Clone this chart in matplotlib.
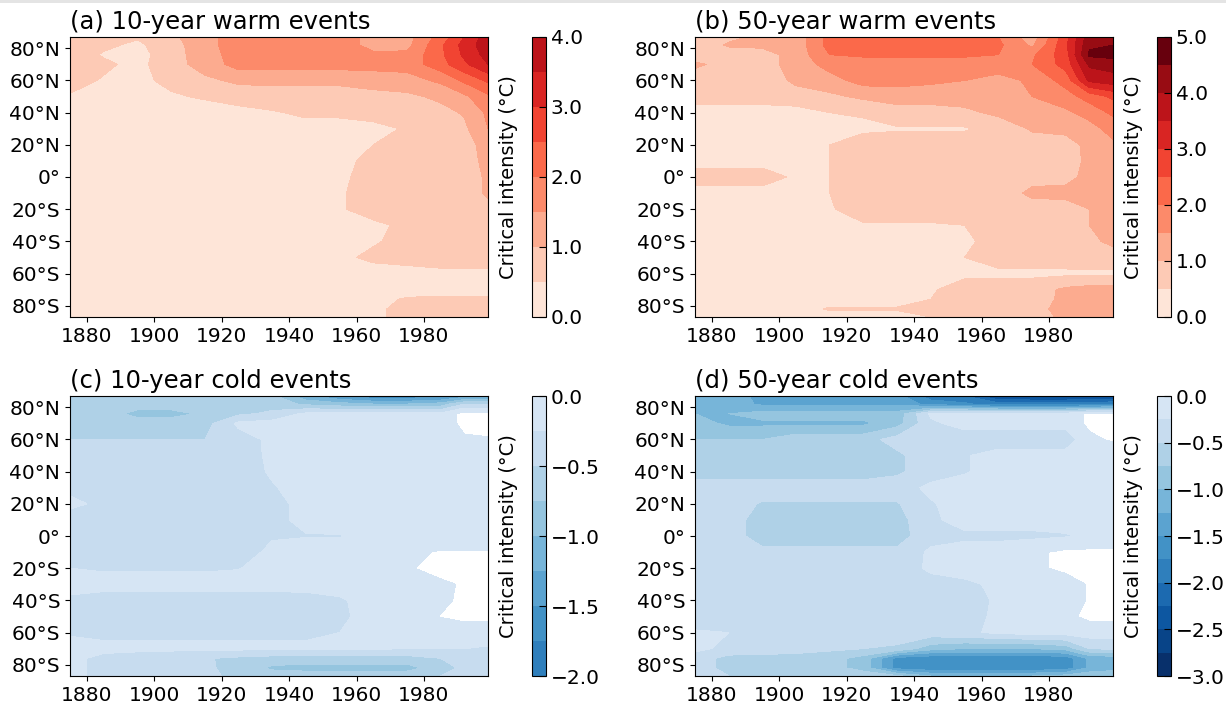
import numpy as np
import matplotlib
matplotlib.use('Agg')
import matplotlib.pyplot as plt
from matplotlib.patches import Rectangle
from matplotlib.ticker import FuncFormatter

# grid of the fields: columns are years, rows are latitudes from north to south
years = [1875, 1885, 1895, 1905, 1915, 1925, 1935, 1945, 1955, 1965, 1975, 1985, 1992, 1999]
lats = [87, 82, 76, 70, 60, 50, 40, 30, 20, 10, 0, -10, -20, -30, -40, -50, -60, -70, -76, -82, -87]

# (a) 10-year warm events, critical intensity in degC
warm10 = [
    [0.7, 0.6, 0.55, 0.9, 1.3, 1.8, 1.8, 1.8, 1.8, 1.3, 1.3, 2.2, 3.0, 3.8],
    [0.75, 0.6, 0.4, 0.8, 1.3, 1.8, 1.8, 1.8, 1.8, 1.3, 1.35, 2.4, 3.2, 3.8],
    [0.75, 0.45, 0.3, 0.8, 1.25, 1.75, 1.75, 1.75, 1.75, 1.6, 1.6, 2.4, 3.1, 3.7],
    [0.75, 0.6, 0.35, 0.8, 1.2, 1.7, 1.7, 1.7, 1.7, 1.7, 1.7, 2.3, 2.9, 3.5],
    [0.7, 0.45, 0.4, 0.6, 0.9, 1.1, 1.1, 1.1, 1.1, 1.2, 1.3, 1.6, 2.1, 2.6],
    [0.45, 0.4, 0.4, 0.45, 0.55, 0.7, 0.8, 0.8, 0.8, 0.85, 0.9, 1.1, 1.4, 1.9],
    [0.3, 0.3, 0.3, 0.3, 0.3, 0.35, 0.45, 0.6, 0.6, 0.7, 0.7, 0.85, 1.05, 1.6],
    [0.3, 0.3, 0.3, 0.3, 0.3, 0.3, 0.3, 0.3, 0.3, 0.35, 0.55, 0.75, 0.9, 1.5],
    [0.3, 0.3, 0.3, 0.3, 0.3, 0.3, 0.3, 0.3, 0.3, 0.5, 0.7, 0.8, 0.85, 1.15],
    [0.3, 0.3, 0.3, 0.3, 0.3, 0.3, 0.3, 0.3, 0.35, 0.65, 0.75, 0.8, 0.85, 1.1],
    [0.3, 0.3, 0.3, 0.3, 0.3, 0.3, 0.3, 0.3, 0.4, 0.7, 0.75, 0.8, 0.85, 1.05],
    [0.3, 0.3, 0.3, 0.3, 0.3, 0.3, 0.3, 0.3, 0.45, 0.7, 0.75, 0.8, 0.85, 1.05],
    [0.3, 0.3, 0.3, 0.3, 0.3, 0.3, 0.3, 0.3, 0.45, 0.7, 0.7, 0.75, 0.8, 0.9],
    [0.3, 0.3, 0.3, 0.3, 0.3, 0.3, 0.3, 0.3, 0.3, 0.4, 0.6, 0.7, 0.75, 0.8],
    [0.3, 0.3, 0.3, 0.3, 0.3, 0.3, 0.3, 0.3, 0.3, 0.45, 0.65, 0.7, 0.75, 0.8],
    [0.3, 0.3, 0.3, 0.3, 0.3, 0.3, 0.3, 0.3, 0.4, 0.6, 0.65, 0.7, 0.7, 0.7],
    [0.3, 0.3, 0.3, 0.3, 0.3, 0.3, 0.3, 0.3, 0.3, 0.3, 0.35, 0.4, 0.4, 0.4],
    [0.3, 0.3, 0.3, 0.3, 0.3, 0.3, 0.3, 0.3, 0.3, 0.3, 0.3, 0.3, 0.3, 0.3],
    [0.3, 0.3, 0.3, 0.3, 0.3, 0.3, 0.3, 0.3, 0.3, 0.35, 0.55, 0.6, 0.6, 0.6],
    [0.3, 0.3, 0.3, 0.3, 0.3, 0.3, 0.3, 0.3, 0.3, 0.4, 0.65, 0.7, 0.7, 0.7],
    [0.3, 0.3, 0.3, 0.3, 0.3, 0.3, 0.3, 0.3, 0.3, 0.4, 0.65, 0.7, 0.7, 0.7],
]

# (b) 50-year warm events
warm50 = [
    [0.7, 0.9, 1.1, 1.2, 2.2, 2.2, 2.2, 2.2, 2.2, 2.0, 1.2, 2.8, 4.3, 4.4],
    [0.7, 1.05, 1.1, 1.2, 2.2, 2.2, 2.2, 2.2, 2.2, 2.1, 1.4, 2.9, 4.4, 4.5],
    [0.7, 0.8, 0.8, 1.2, 2.0, 2.1, 2.1, 2.1, 2.1, 2.0, 1.9, 2.8, 4.6, 4.7],
    [1.1, 0.8, 0.8, 1.2, 1.7, 1.7, 1.7, 1.7, 1.7, 1.8, 2.0, 2.7, 4.1, 4.2],
    [0.7, 0.7, 0.7, 1.1, 1.3, 1.7, 1.7, 1.6, 1.5, 1.3, 1.6, 2.2, 3.6, 3.8],
    [0.7, 0.7, 0.7, 0.8, 0.9, 1.1, 1.2, 1.2, 1.2, 1.3, 1.5, 1.8, 2.2, 2.6],
    [0.3, 0.3, 0.3, 0.3, 0.5, 0.55, 0.8, 0.8, 0.9, 1.1, 1.2, 1.4, 1.7, 2.1],
    [0.3, 0.3, 0.3, 0.3, 0.4, 0.4, 0.45, 0.45, 0.45, 0.7, 1.05, 1.1, 1.3, 1.7],
    [0.3, 0.3, 0.3, 0.3, 0.5, 0.75, 0.75, 0.75, 0.75, 0.75, 0.8, 0.85, 1.1, 1.4],
    [0.3, 0.3, 0.3, 0.3, 0.5, 0.75, 0.75, 0.75, 0.75, 0.75, 0.75, 0.8, 1.1, 1.3],
    [0.75, 0.75, 0.75, 0.4, 0.5, 0.75, 0.75, 0.75, 0.75, 0.75, 0.85, 0.9, 1.1, 1.3],
    [0.3, 0.3, 0.3, 0.3, 0.5, 0.75, 0.75, 0.75, 0.75, 0.75, 1.1, 1.1, 1.1, 1.3],
    [0.3, 0.3, 0.3, 0.3, 0.45, 0.75, 0.75, 0.75, 0.75, 0.75, 0.8, 0.85, 1.0, 1.3],
    [0.3, 0.3, 0.3, 0.3, 0.3, 0.45, 0.45, 0.45, 0.5, 0.7, 0.75, 0.8, 1.0, 1.2],
    [0.3, 0.3, 0.3, 0.3, 0.3, 0.3, 0.3, 0.3, 0.4, 0.7, 0.75, 0.8, 0.9, 1.1],
    [0.3, 0.3, 0.3, 0.3, 0.3, 0.3, 0.3, 0.3, 0.5, 0.7, 0.75, 0.75, 0.8, 0.8],
    [0.3, 0.3, 0.3, 0.3, 0.3, 0.3, 0.3, 0.3, 0.4, 0.4, 0.4, 0.4, 0.4, 0.4],
    [0.3, 0.3, 0.3, 0.3, 0.3, 0.3, 0.3, 0.45, 0.7, 0.7, 0.75, 1.1, 1.2, 1.2],
    [0.3, 0.3, 0.3, 0.3, 0.3, 0.3, 0.3, 0.5, 0.7, 0.75, 0.8, 1.1, 1.2, 1.2],
    [0.3, 0.3, 0.3, 0.3, 0.55, 0.55, 0.55, 0.6, 0.75, 0.75, 0.8, 1.2, 1.2, 1.2],
    [0.3, 0.3, 0.3, 0.3, 0.3, 0.3, 0.3, 0.5, 0.75, 0.75, 0.8, 1.1, 1.2, 1.2],
]

# (c) 10-year cold events
cold10 = [
    [-0.6, -0.6, -0.6, -0.6, -0.6, -0.65, -0.7, -1.2, -1.5, -1.7, -1.7, -1.6, -1.4, -1.3],
    [-0.6, -0.6, -0.6, -0.6, -0.6, -0.6, -0.6, -0.8, -0.9, -1.0, -1.0, -0.9, -0.5, -0.5],
    [-0.6, -0.6, -0.85, -0.85, -0.7, -0.55, -0.45, -0.2, -0.15, -0.15, -0.15, -0.2, 0.1, 0.1],
    [-0.6, -0.6, -0.6, -0.6, -0.6, -0.2, -0.15, -0.15, -0.15, -0.15, -0.15, -0.2, 0.1, 0.1],
    [-0.5, -0.5, -0.5, -0.5, -0.5, -0.35, -0.2, -0.15, -0.15, -0.15, -0.15, -0.15, -0.05, -0.02],
    [-0.37, -0.37, -0.37, -0.37, -0.37, -0.37, -0.2, -0.15, -0.15, -0.15, -0.15, -0.15, -0.15, -0.12],
    [-0.28, -0.37, -0.37, -0.37, -0.37, -0.37, -0.22, -0.15, -0.15, -0.15, -0.15, -0.15, -0.15, -0.15],
    [-0.3, -0.37, -0.37, -0.37, -0.37, -0.37, -0.27, -0.15, -0.15, -0.15, -0.15, -0.15, -0.15, -0.15],
    [-0.2, -0.3, -0.37, -0.37, -0.37, -0.37, -0.3, -0.2, -0.15, -0.15, -0.15, -0.15, -0.15, -0.15],
    [-0.35, -0.37, -0.37, -0.37, -0.37, -0.37, -0.3, -0.2, -0.15, -0.15, -0.15, -0.15, -0.15, -0.15],
    [-0.35, -0.37, -0.37, -0.37, -0.37, -0.37, -0.27, -0.26, -0.26, -0.2, -0.15, -0.15, -0.15, -0.15],
    [-0.33, -0.37, -0.37, -0.37, -0.37, -0.35, -0.2, -0.15, -0.15, -0.15, -0.05, 0.02, 0.02, 0.02],
    [-0.25, -0.28, -0.28, -0.28, -0.28, -0.26, -0.15, -0.15, -0.15, -0.15, -0.03, 0.1, 0.1, 0.1],
    [-0.15, -0.15, -0.15, -0.15, -0.15, -0.15, -0.15, -0.15, -0.15, -0.15, -0.15, -0.05, 0.03, 0.05],
    [-0.3, -0.37, -0.37, -0.37, -0.37, -0.37, -0.37, -0.35, -0.28, -0.15, -0.15, -0.05, 0.05, 0.05],
    [-0.35, -0.37, -0.37, -0.37, -0.37, -0.37, -0.37, -0.37, -0.3, -0.15, -0.15, 0.01, 0.05, 0.05],
    [-0.28, -0.3, -0.3, -0.3, -0.3, -0.3, -0.3, -0.3, -0.25, -0.15, -0.15, -0.15, -0.1, -0.1],
    [-0.15, -0.2, -0.2, -0.2, -0.2, -0.2, -0.2, -0.2, -0.2, -0.22, -0.25, -0.25, -0.25, -0.28],
    [-0.2, -0.3, -0.35, -0.4, -0.48, -0.55, -0.6, -0.6, -0.6, -0.6, -0.6, -0.5, -0.4, -0.4],
    [-0.2, -0.3, -0.35, -0.4, -0.45, -0.6, -0.8, -0.85, -0.85, -0.85, -0.85, -0.6, -0.45, -0.45],
    [-0.2, -0.3, -0.35, -0.4, -0.45, -0.55, -0.6, -0.6, -0.6, -0.6, -0.6, -0.5, -0.4, -0.4],
]

# (d) 50-year cold events
cold50 = [
    [-1.1, -1.1, -1.35, -1.35, -1.35, -1.35, -1.4, -1.9, -2.0, -2.55, -2.6, -2.6, -2.6, -2.55],
    [-1.1, -1.1, -1.3, -1.3, -1.3, -1.3, -1.3, -1.6, -1.7, -1.9, -1.9, -1.9, -1.85, -1.8],
    [-1.0, -1.0, -0.9, -0.9, -0.9, -0.9, -0.9, -0.2, -0.15, -0.15, -0.15, -0.15, 0.05, 0.05],
    [-0.9, -1.05, -1.05, -1.05, -1.05, -1.05, -0.85, -0.3, -0.15, -0.15, -0.15, -0.15, 0.05, 0.05],
    [-0.75, -0.75, -0.75, -0.6, -0.6, -0.6, -0.4, -0.4, -0.4, -0.4, -0.4, -0.4, -0.05, 0.03],
    [-0.6, -0.6, -0.6, -0.6, -0.6, -0.6, -0.55, -0.35, -0.27, -0.15, -0.15, -0.15, -0.15, -0.15],
    [-0.6, -0.6, -0.6, -0.6, -0.6, -0.6, -0.55, -0.35, -0.27, -0.15, -0.15, -0.15, -0.15, -0.15],
    [-0.4, -0.4, -0.4, -0.4, -0.4, -0.4, -0.35, -0.2, -0.15, -0.15, -0.15, -0.15, -0.15, -0.15],
    [-0.4, -0.4, -0.52, -0.52, -0.52, -0.52, -0.52, -0.27, -0.15, -0.15, -0.15, -0.15, -0.15, -0.15],
    [-0.4, -0.4, -0.6, -0.6, -0.6, -0.6, -0.6, -0.3, -0.15, -0.15, -0.15, -0.15, -0.15, -0.15],
    [-0.4, -0.4, -0.6, -0.6, -0.6, -0.6, -0.6, -0.35, -0.3, -0.3, -0.3, -0.27, -0.2, -0.15],
    [-0.4, -0.4, -0.45, -0.45, -0.45, -0.45, -0.45, -0.2, -0.15, -0.15, -0.05, 0.05, 0.05, 0.05],
    [-0.4, -0.4, -0.4, -0.4, -0.4, -0.4, -0.4, -0.2, -0.15, -0.15, -0.05, 0.05, 0.05, 0.05],
    [-0.35, -0.4, -0.4, -0.4, -0.4, -0.4, -0.4, -0.35, -0.3, -0.2, -0.15, -0.1, 0.02, 0.05],
    [-0.4, -0.4, -0.4, -0.4, -0.4, -0.4, -0.4, -0.4, -0.4, -0.2, -0.15, -0.1, 0.02, 0.05],
    [-0.4, -0.4, -0.4, -0.4, -0.4, -0.4, -0.4, -0.4, -0.35, -0.2, -0.15, -0.05, 0.05, 0.05],
    [-0.22, -0.25, -0.35, -0.35, -0.35, -0.35, -0.35, -0.35, -0.3, -0.2, -0.15, -0.15, -0.12, -0.12],
    [-0.2, -0.3, -0.35, -0.4, -0.45, -0.5, -0.55, -0.9, -1.0, -1.0, -1.0, -0.9, -0.5, -0.45],
    [-0.35, -0.6, -0.6, -0.6, -0.65, -0.85, -1.6, -1.7, -1.7, -1.7, -1.7, -1.65, -1.2, -1.15],
    [-0.35, -0.6, -0.6, -0.6, -0.65, -0.85, -1.6, -1.7, -1.7, -1.7, -1.7, -1.65, -1.2, -1.1],
    [-0.3, -0.5, -0.5, -0.5, -0.55, -0.6, -0.7, -1.0, -1.0, -1.0, -1.0, -0.9, -0.8, -0.8],
]

warm10_levels = np.arange(0, 4.01, 0.5)
warm50_levels = np.arange(0, 5.01, 0.5)
cold10_levels = np.arange(-2, 0.01, 0.25)
cold50_levels = np.arange(-3, 0.01, 0.25)

reds = plt.get_cmap('Reds')(np.linspace(0.1, 1.0, 10))
blues = plt.get_cmap('Blues')(np.linspace(1.0, 0.17, 12))


def lat_label(v, pos):
    if v > 0:
        return '%d°N' % v
    if v < 0:
        return '%d°S' % -v
    return '0°'


def cbar_label(v, pos):
    if abs(v) < 1e-9:
        v = 0.0
    return ('%.1f' % v).replace('-', '\u2212')


W, H = 1226, 705
fig = plt.figure(figsize=(W / 100, H / 100), dpi=100)

# thin grey strip along the top edge of the original picture
fig.add_artist(Rectangle((0, 1 - 3 / H), 1, 3 / H, transform=fig.transFigure,
                         color='#e4e4e4', lw=0))

panels = [
    # data, levels, colors, title, axes corner (px), colorbar x, ticks
    (warm10, warm10_levels, reds[:8], '(a) 10-year warm events', (70, 37), 532, np.arange(0, 4.1, 1.0)),
    (warm50, warm50_levels, reds, '(b) 50-year warm events', (695, 37), 1157, np.arange(0, 5.1, 1.0)),
    (cold10, cold10_levels, blues[4:], '(c) 10-year cold events', (70, 396), 532, np.arange(-2, 0.01, 0.5)),
    (cold50, cold50_levels, blues, '(d) 50-year cold events', (695, 396), 1157, np.arange(-3, 0.01, 0.5)),
]

for data, levels, cols, title, (x0, y0), cx, cticks in panels:
    ax = fig.add_axes([x0 / W, (H - y0 - 280) / H, 418 / W, 280 / H])
    cs = ax.contourf(years, lats, np.array(data), levels=levels, colors=cols)
    ax.set_xlim(1875, 1999)
    ax.set_ylim(-87, 87)
    ax.set_xticks([1880, 1900, 1920, 1940, 1960, 1980])
    ax.set_yticks(np.arange(-80, 81, 20))
    ax.yaxis.set_major_formatter(FuncFormatter(lat_label))
    ax.tick_params(labelsize=14.5)
    ax.set_title(title, loc='left', fontsize=17.5)

    cax = fig.add_axes([cx / W, (H - y0 - 280) / H, 14 / W, 280 / H])
    cb = fig.colorbar(cs, cax=cax, ticks=cticks)
    cb.ax.yaxis.set_major_formatter(FuncFormatter(cbar_label))
    cb.ax.tick_params(labelsize=14.5, direction='in', length=5)
    cb.set_label('Critical intensity (°C)', fontsize=14, labelpad=10)
    cb.ax.yaxis.set_label_position('left')

fig.savefig('out.png', dpi=100)
